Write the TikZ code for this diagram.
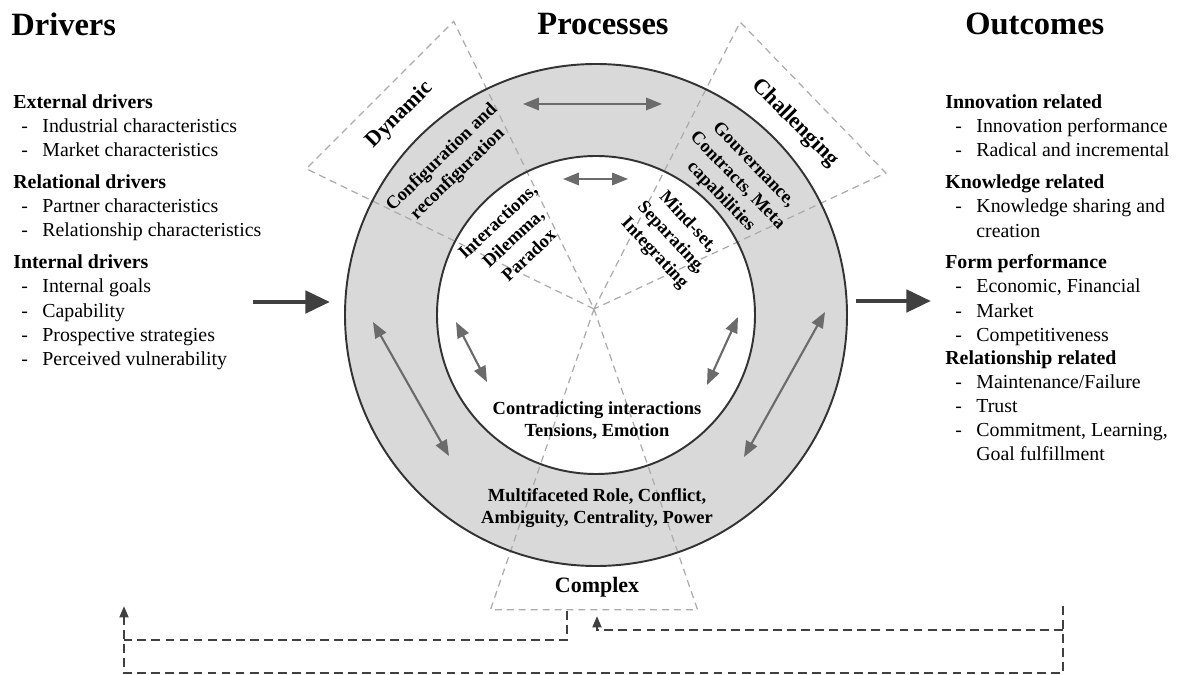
\documentclass[tikz,border=0pt]{standalone}
\usepackage{fontspec}
\setmainfont{Liberation Serif}
\usetikzlibrary{arrows.meta}

\definecolor{ringgray}{HTML}{D9D9D9}
\definecolor{ringedge}{HTML}{333333}
\definecolor{arrowgray}{HTML}{6B6B6B}
\definecolor{dashgray}{HTML}{ABABAB}
\definecolor{darkarrow}{HTML}{404040}

\newcommand{\listdash}{\makebox[12pt][l]{-}}

\tikzset{
  coltitle/.style={anchor=west, inner sep=0pt, font=\fontsize{18.5}{22}\selectfont\bfseries},
  colhead/.style={anchor=west, inner sep=0pt, text height=8pt, text depth=2pt,
    font=\fontsize{11.3}{13.6}\selectfont\bfseries},
  colitem/.style={anchor=west, inner sep=0pt, text height=8pt, text depth=2pt,
    font=\fontsize{11.3}{13.6}\selectfont},
  ringtext/.style={align=center, inner sep=0pt, font=\fontsize{10.5}{12.5}\selectfont\bfseries},
  tilted/.style={ringtext, font=\fontsize{10.5}{13}\selectfont\bfseries},
  sectorname/.style={inner sep=0pt, font=\fontsize{12.5}{15}\selectfont\bfseries},
  sector/.style={draw=dashgray, line width=0.7pt, dash pattern=on 4pt off 2.8pt},
  ringline/.style={draw=ringedge, line width=1.1pt},
  twoway/.style={draw=arrowgray, line width=1.2pt,
    arrows={Triangle[length=9pt,width=7pt]-Triangle[length=9pt,width=7pt]}},
  bigarrow/.style={draw=darkarrow, line width=2.8pt, -{Triangle[length=14pt,width=12.5pt]}},
  feedback/.style={draw=darkarrow, line width=1.4pt, dash pattern=on 5pt off 3pt},
}

\begin{document}
\begin{tikzpicture}[x=0.02cm, y=-0.02cm]
  \useasboundingbox (0,0) rectangle (1178,675);

  % radii of the rings
  \def\R{251}
  \def\r{159}

  % centre of the rings, apex of the sectors
  \coordinate (C) at (596,315);
  \coordinate (A) at (594,309);

  % grey ring
  \fill[ringgray] (C) circle (\R);
  \fill[white] (C) circle (\r);

  % the three dashed sectors
  \foreach \a/\len in {-135/320, -44/322, 90/318}
    \draw[sector, shift={(A)}] (0,0) -- (\a-19:\len) -- (\a+19:\len) -- cycle;

  \draw[ringline] (C) circle (\R);
  \draw[ringline] (C) circle (\r);

  % arrows inside the ring
  \foreach \ax/\ay/\bx/\by in {523/104/662/104, 563/179/628/179, 373/322/449/456,
      456/322/487/382, 738/317/707/385, 825/312/744/457}
    \draw[twoway] (\ax,\ay) -- (\bx,\by);

  % titles
  \node[coltitle] (drv) at (11,24) {Drivers};
  \node[coltitle, anchor=center] (proc) at (603,24) {Processes};
  \node[coltitle] (out) at (965,24) {Outcomes};

  % drivers
  \node[colhead] (ext) at (13,103) {External drivers};
  \node[colhead] (rel) at (13,183) {Relational drivers};
  \node[colhead] (int) at (13,263) {Internal drivers};
  \foreach \y/\t [count=\i] in {127/Industrial characteristics, 151/Market characteristics,
      207/Partner characteristics, 231/Relationship characteristics, 287/Internal goals,
      312/Capability, 336/Prospective strategies, 360/Perceived vulnerability}
    \node[colitem] (drv-\i) at (21,\y) {\listdash\t};

  % outcomes
  \node[colhead] (inn) at (945,103) {Innovation related};
  \node[colhead] (kno) at (945,183) {Knowledge related};
  \node[colhead] (frm) at (945,263) {Form performance};
  \node[colhead] (rsh) at (945,359) {Relationship related};
  \foreach \y/\t [count=\i] in {127/Innovation performance, 151/Radical and incremental,
      207/Knowledge sharing and, 287/{Economic, Financial}, 312/Market, 336/Competitiveness,
      383/{Maintenance/Failure}, 407/Trust, 431/{Commitment, Learning,}}
    \node[colitem] (out-\i) at (955,\y) {\listdash\t};
  \node[colitem] (kno-2) at (976,232) {creation};
  \node[colitem] (rsh-2) at (976,455) {Goal fulfillment};

  % labels in the ring
  \node[sectorname, rotate=45] (dyn) at (400,115) {Dynamic};
  \node[tilted, rotate=44] (cfg) at (450,166) {Configuration and\\reconfiguration};
  \node[tilted, rotate=43] (idp) at (513,238) {Interactions,\\Dilemma,\\Paradox};
  \node[tilted, rotate=-47] (msi) at (671,238) {Mind-set,\\Separating,\\Integrating};
  \node[tilted, rotate=-46] (gov) at (737,181) {Gouvernance,\\Contracts, Meta\\capabilities};
  \node[sectorname, rotate=-45] (chl) at (795,123) {Challenging};
  \node[ringtext] (cie) at (597,421) {Contradicting interactions\\Tensions, Emotion};
  \node[ringtext] (mrc) at (597,508) {Multifaceted Role, Conflict,\\Ambiguity, Centrality, Power};
  \node[sectorname] (cpx) at (597,587) {Complex};

  % drivers -> processes -> outcomes
  \coordinate (drvE) at (253,302);
  \coordinate (ringW) at (330,302);
  \coordinate (ringE) at (856,301);
  \coordinate (outW) at (931,301);
  \draw[bigarrow] (drvE) -- (ringW);
  \draw[bigarrow] (ringE) -- (outW);

  % feedback loops
  \coordinate (drvS) at (124,606);
  \coordinate (outS) at (1063,606);
  \coordinate (cpxS) at (567,611);
  \coordinate (cpxT) at (597,616);
  \draw[feedback, -{Triangle[length=6.5pt,width=5pt]}] (outS) -- (1063,673) -- (124,673) -- (drvS);
  \draw[feedback, -{Triangle[length=6.5pt,width=5pt]}] (1063,630) -- (597,630) -- (cpxT);
  \draw[feedback] (cpxS) |- (124,640);

\end{tikzpicture}
\end{document}
